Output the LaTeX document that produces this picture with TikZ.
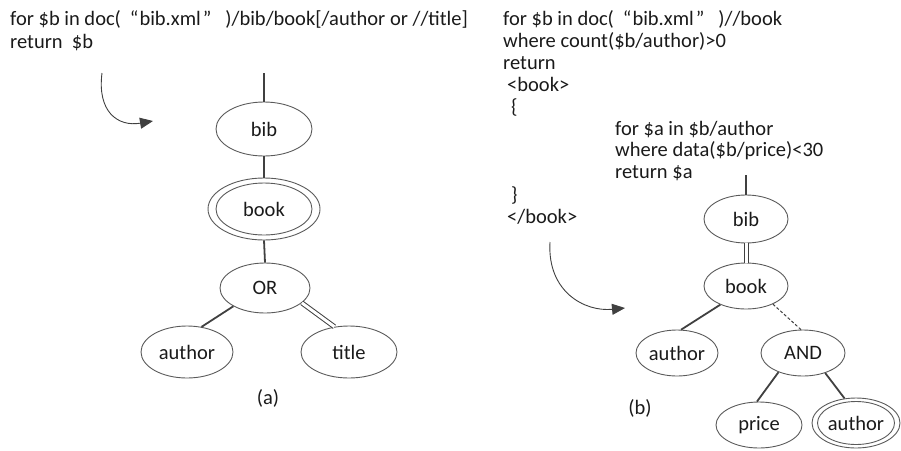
\documentclass[tikz,border=0pt]{standalone}
\usepackage{fontspec}
\setmainfont{Carlito}
\usetikzlibrary{shapes.geometric,arrows.meta}
\definecolor{elc}{HTML}{5A5A5A}
\definecolor{lnc}{HTML}{404040}
\definecolor{txt}{HTML}{1A1A1A}
\newcommand{\bibdoc}{doc(\hspace{9pt}“\hspace{1pt}bib.xml\hspace{2pt}”\hspace{14pt})}
\tikzset{
 el/.style={ellipse, draw=elc, line width=0.9pt, inner sep=0pt, font=\fontsize{20.5}{22}\selectfont, text=txt},
 inel/.style={draw=elc, line width=0.9pt},
 conn/.style={draw=lnc, line width=1.8pt},
 dbl/.style={draw=lnc, line width=1pt, double=white, double distance=3pt},
 dsh/.style={draw=lnc, line width=1pt, dash pattern=on 3pt off 2pt},
 code/.style={anchor=base west, inner sep=0pt, align=left, text=txt},
 lbl/.style={inner sep=0pt, text=txt, font=\fontsize{20.5}{22}\selectfont},
 curvearrow/.style={draw=lnc, line width=0.9pt, -{Triangle[length=13pt,width=11pt]}},
}
\begin{document}
\begin{tikzpicture}[x=1pt,y=-1pt]
\useasboundingbox (0,0) rectangle (901,450);
% ---- texts (anchored at the baseline of their last line)
\node[code, font=\fontsize{20.5}{23}\selectfont] (qa) at (10,48)
 {for \$b in \bibdoc/bib/book[/author or //title]\\return\ \ \$b};
\node[code, font=\fontsize{20.5}{22}\selectfont] (qb1) at (503,113)
 {for \$b in \bibdoc//book\\where count(\$b/author)>0\\return\\\hspace*{4pt}<book>\\\hspace*{8pt}\{};
\node[code, font=\fontsize{20.5}{21.5}\selectfont] (qb2) at (615,178)
 {for \$a in \$b/author\\where data(\$b/price)<30\\return \$a};
\node[code, font=\fontsize{20.5}{22}\selectfont] (qb3) at (503,223)
 {\hspace*{8pt}\}\\\hspace*{4pt}</book>};
% ---- tree (a)
\node[el, minimum width=96pt, minimum height=54pt] (bibA) at (264,129) {bib};
\node[el, minimum width=112pt, minimum height=62pt] (bookA) at (264,209) {book};
\draw[inel] (bookA.center) ellipse [x radius=48pt, y radius=26pt];
\node[el, minimum width=90pt, minimum height=50pt] (orA) at (265,288) {OR};
\node[el, minimum width=92pt, minimum height=52pt] (authA) at (187,352) {author};
\node[el, minimum width=96pt, minimum height=52pt] (titleA) at (349,352) {title};
\node[lbl] (capA) at (268,398) {(a)};
\coordinate (topA) at (264,73);
\draw[conn] (topA) -- (bibA.north);
\draw[conn] (bibA.south) -- (bookA.north);
\draw[conn] (bookA.south) -- (orA.north);
\draw[conn] (orA.210) -- (authA.60);
\draw[dbl] (orA.338) -- (titleA.120);
\coordinate (arrA0) at (102,73);
\coordinate (arrA1) at (153,121);
\draw[curvearrow] (arrA0) .. controls (97,112) and (118,127) .. (arrA1);
% ---- tree (b)
\node[el, minimum width=84pt, minimum height=48pt] (bibB) at (746,219) {bib};
\node[el, minimum width=84pt, minimum height=46pt] (bookB) at (746,286) {book};
\node[el, minimum width=82pt, minimum height=46pt] (authB) at (677,353) {author};
\node[el, minimum width=84pt, minimum height=46pt] (andB) at (803,353) {AND};
\node[el, minimum width=86pt, minimum height=46pt] (priceB) at (759,425) {price};
\node[el, minimum width=88pt, minimum height=50pt] (auth2B) at (856,423) {author};
\draw[inel] (auth2B.center) ellipse [x radius=38.5pt, y radius=21.5pt];
\node[lbl] (capB) at (640,408) {(b)};
\coordinate (topB) at (746,175);
\draw[conn] (topB) -- (bibB.north);
\draw[dbl] (bibB.south) -- (bookB.north);
\draw[conn] (bookB.216) -- (authB.80);
\draw[dsh] (bookB.326) -- (andB.95);
\draw[conn] (andB.218) -- (priceB.95);
\draw[conn] (andB.318) -- (auth2B.115);
\coordinate (arrB0) at (550,242);
\coordinate (arrB1) at (625,308);
\draw[curvearrow] (arrB0) .. controls (547,292) and (585,312) .. (arrB1);
\end{tikzpicture}
\end{document}
